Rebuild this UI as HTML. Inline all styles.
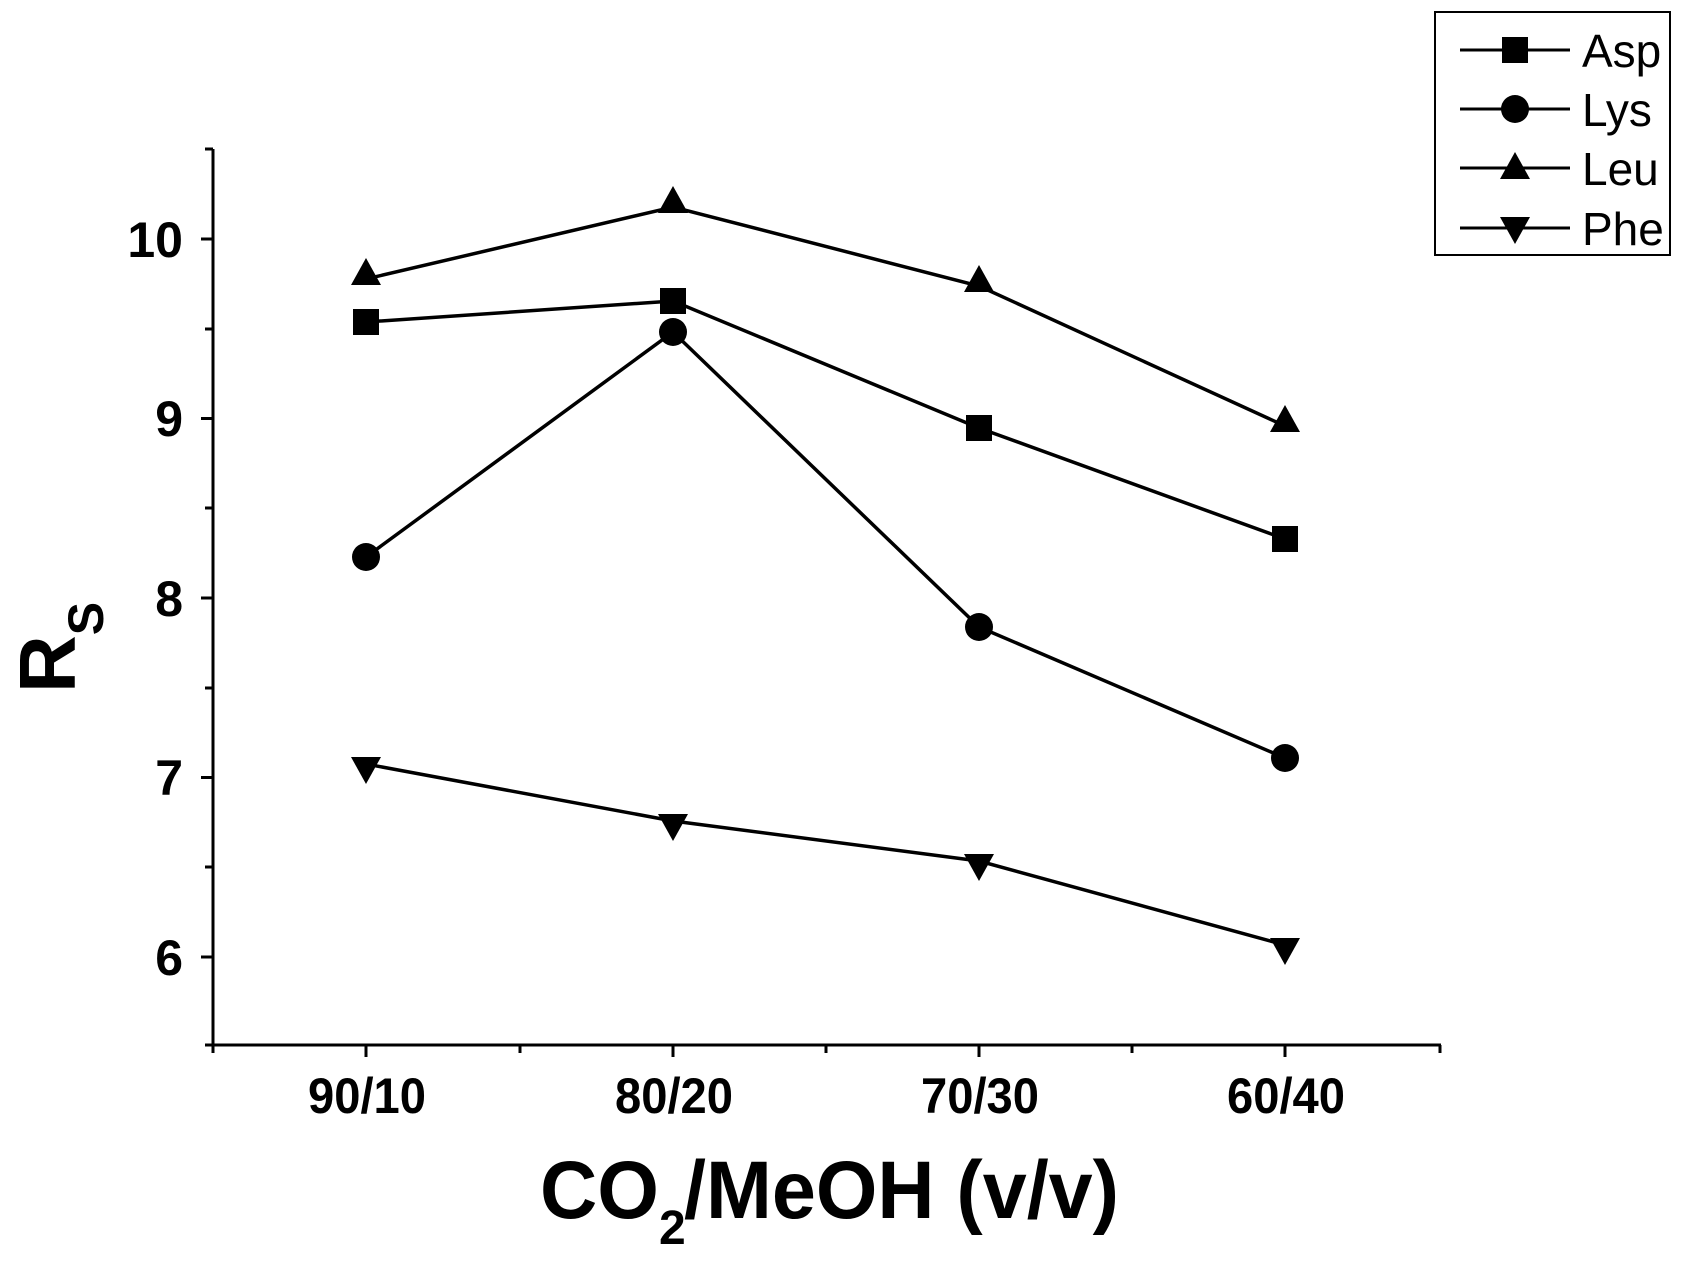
<!DOCTYPE html>
<html><head><meta charset="utf-8"><style>body{margin:0;background:#fff}svg{display:block}</style></head><body>
<svg width="1690" height="1262" viewBox="0 0 1690 1262" xmlns="http://www.w3.org/2000/svg" font-family="Liberation Sans, sans-serif">
<defs>
<rect id="sq" x="-13" y="-13" width="26" height="26"/>
<circle id="ci" r="14"/>
<polygon id="tu" points="0,-16 15,11 -15,11"/>
<polygon id="td" points="0,16 15,-11 -15,-11"/>
</defs>
<g stroke="#000" stroke-width="3" fill="none">
<line x1="213" y1="149" x2="213" y2="1046"/>
<line x1="212" y1="1045" x2="1441" y2="1045"/>
<line x1="201" y1="239" x2="213" y2="239"/><line x1="201" y1="418.5" x2="213" y2="418.5"/><line x1="201" y1="598" x2="213" y2="598"/><line x1="201" y1="777.5" x2="213" y2="777.5"/><line x1="201" y1="957" x2="213" y2="957"/>
<line x1="205" y1="149" x2="213" y2="149"/><line x1="205" y1="329" x2="213" y2="329"/><line x1="205" y1="508" x2="213" y2="508"/><line x1="205" y1="688" x2="213" y2="688"/><line x1="205" y1="867" x2="213" y2="867"/><line x1="205" y1="1045" x2="213" y2="1045"/>
<line x1="366" y1="1045" x2="366" y2="1057"/><line x1="673" y1="1045" x2="673" y2="1057"/><line x1="979" y1="1045" x2="979" y2="1057"/><line x1="1285" y1="1045" x2="1285" y2="1057"/>
<line x1="213" y1="1045" x2="213" y2="1053"/><line x1="520" y1="1045" x2="520" y2="1053"/><line x1="826" y1="1045" x2="826" y2="1053"/><line x1="1132" y1="1045" x2="1132" y2="1053"/><line x1="1440" y1="1045" x2="1440" y2="1053"/>
<g stroke-width="3.5">
<polyline points="366,322 673,301 979,428 1285,539"/>
<polyline points="366,557 673,332 979,627 1285,758"/>
<polyline points="366,279 673,207 979,286 1285,426"/>
<polyline points="366,764 673,821 979,861 1285,945"/>
</g>
<rect x="1435" y="12" width="235" height="243" stroke-width="2"/>
<line x1="1460" y1="50" x2="1570" y2="50"/><line x1="1460" y1="109" x2="1570" y2="109"/><line x1="1460" y1="168" x2="1570" y2="168"/><line x1="1460" y1="228" x2="1570" y2="228"/>
</g>
<g fill="#000">
<use href="#sq" x="366" y="322"/><use href="#sq" x="673" y="301"/><use href="#sq" x="979" y="428"/><use href="#sq" x="1285" y="539"/>
<use href="#ci" x="366" y="557"/><use href="#ci" x="673" y="332"/><use href="#ci" x="979" y="627"/><use href="#ci" x="1285" y="758"/>
<use href="#tu" x="366" y="274"/><use href="#tu" x="673" y="202"/><use href="#tu" x="979" y="281"/><use href="#tu" x="1285" y="421"/>
<use href="#td" x="366" y="768"/><use href="#td" x="673" y="825"/><use href="#td" x="979" y="865"/><use href="#td" x="1285" y="949"/>
<use href="#sq" x="1515" y="50"/><use href="#ci" x="1515" y="109"/><use href="#tu" x="1515" y="168"/><use href="#td" x="1515" y="228"/>
<g font-size="46"><text x="1582" y="67">Asp</text><text x="1582" y="126">Lys</text><text x="1582" y="185">Leu</text><text x="1582" y="245">Phe</text></g>
<g font-size="50" font-weight="bold" text-anchor="end"><text x="183" y="257">10</text><text x="183" y="436">9</text><text x="183" y="616">8</text><text x="183" y="795">7</text><text x="183" y="975">6</text></g>
<g font-size="50" font-weight="bold"><text x="308" y="1113" textLength="118" lengthAdjust="spacingAndGlyphs">90/10</text><text x="615" y="1113" textLength="118" lengthAdjust="spacingAndGlyphs">80/20</text><text x="921" y="1113" textLength="118" lengthAdjust="spacingAndGlyphs">70/30</text><text x="1227" y="1113" textLength="118" lengthAdjust="spacingAndGlyphs">60/40</text></g>
<g font-size="82" font-weight="bold">
<text x="540" y="1218" textLength="119" lengthAdjust="spacingAndGlyphs">CO</text>
<text x="659" y="1244" font-size="48">2</text>
<text x="684" y="1218" textLength="435" lengthAdjust="spacingAndGlyphs">/MeOH (v/v)</text>
</g>
<text transform="translate(75,693) rotate(-90)" font-size="80" font-weight="bold">R<tspan font-size="50" dy="28">S</tspan></text>
</g>
</svg>
</body></html>
